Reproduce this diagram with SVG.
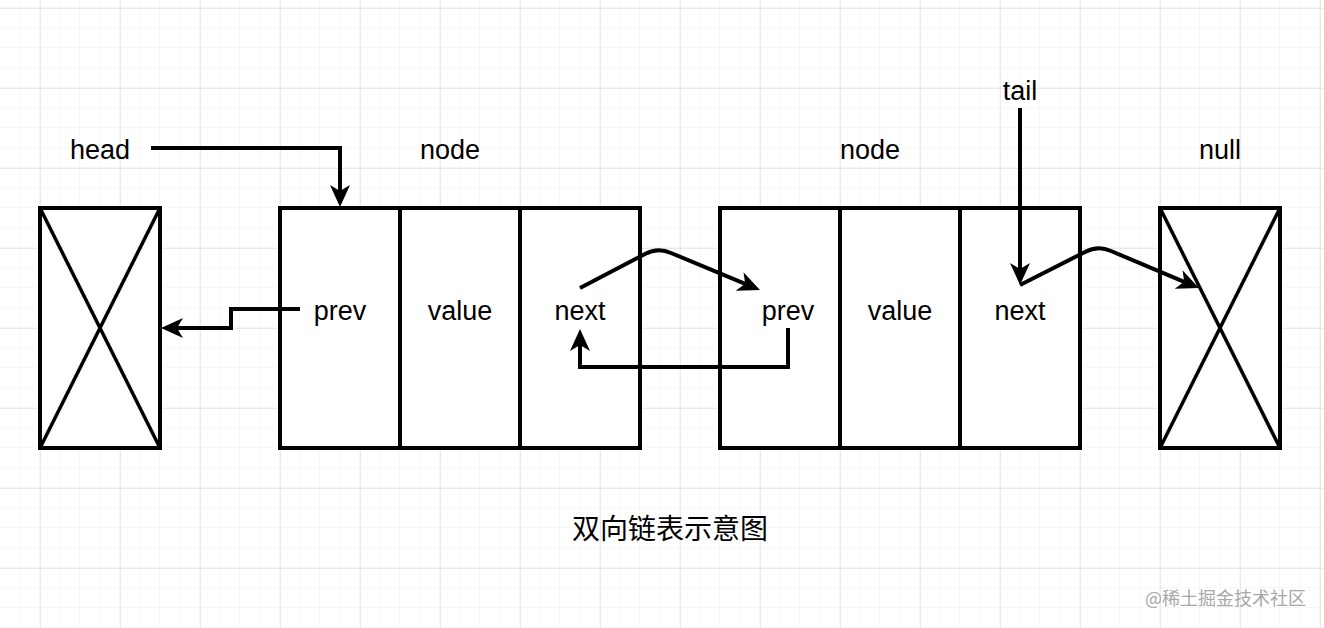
<svg xmlns="http://www.w3.org/2000/svg" width="1324" height="628" viewBox="0 0 1324 628">
  <defs>
    <pattern id="minor" width="20" height="20" patternUnits="userSpaceOnUse" x="0" y="8">
      <path d="M20 0 V20 M0 20 H20" fill="none" stroke="#efefef" stroke-width="1"/>
    </pattern>
    <pattern id="major" width="80" height="80" patternUnits="userSpaceOnUse" x="40" y="8">
      <path d="M0 0 V80 M0 0 H80" fill="none" stroke="#d6d6d6" stroke-width="1"/>
    </pattern>
    <marker id="arr" viewBox="0 0 22 20" refX="6" refY="10" markerWidth="22" markerHeight="20" markerUnits="userSpaceOnUse" orient="auto">
      <path d="M0,0 L22,10 L0,20 L6,10 z" fill="#000"/>
    </marker>
  </defs>
  <style>
    .box{fill:#fff;stroke:#000;stroke-width:4}
    .ln{fill:none;stroke:#000;stroke-width:3.5}
    .conn{fill:none;stroke:#000;stroke-width:4;stroke-linejoin:miter}
    .t{font-family:"Liberation Sans",Arial,sans-serif;font-size:27px;fill:#000;text-anchor:middle}
    .cjk{font-family:"Liberation Sans","Noto Sans CJK SC",sans-serif;font-size:28px;fill:#000;text-anchor:middle}
    .wm{font-family:"Noto Sans CJK SC",sans-serif;font-size:18px;fill:#a8a8a8;text-anchor:start}
  </style>
  <rect width="1324" height="628" fill="#fff"/>
  <rect x="0" y="0" width="1324" height="628" fill="url(#minor)"/>
  <rect x="0" y="0" width="1324" height="628" fill="url(#major)"/>

  <g id="headNull">
    <rect class="box" x="40" y="208" width="120" height="240"/>
    <path class="ln" d="M40 208 L160 448 M160 208 L40 448"/>
  </g>

  <g id="node1">
    <rect class="box" x="280" y="208" width="360" height="240"/>
    <path class="box" d="M400 208 V448 M520 208 V448"/>
    <text class="t" x="340" y="320">prev</text>
    <text class="t" x="460" y="320">value</text>
    <text class="t" x="580" y="320">next</text>
  </g>

  <g id="node2">
    <rect class="box" x="720" y="208" width="360" height="240"/>
    <path class="box" d="M840 208 V448 M960 208 V448"/>
    <text class="t" x="788" y="320">prev</text>
    <text class="t" x="900" y="320">value</text>
    <text class="t" x="1020" y="320">next</text>
  </g>

  <g id="nullBox">
    <rect class="box" x="1160" y="208" width="120" height="240"/>
    <path class="ln" d="M1160 208 L1280 448 M1280 208 L1160 448"/>
  </g>

  <g id="labels">
    <text class="t" x="100" y="159">head</text>
    <text class="t" x="450" y="159">node</text>
    <text class="t" x="870" y="159">node</text>
    <text class="t" x="1020" y="100">tail</text>
    <text class="t" x="1220" y="159">null</text>
    <text class="cjk" x="670" y="539">双向链表示意图</text>
    <text class="wm" x="1145" y="605">@稀土掘金技术社区</text>
  </g>

  <g id="connectors">
    <path class="conn" d="M151 148 H340 V191" marker-end="url(#arr)"/>
    <path class="conn" d="M300 309 H231 V328 H177" marker-end="url(#arr)"/>
    <path class="conn" d="M580 288 L645 254 Q658 247 671 253 L745.2 283.8" marker-end="url(#arr)"/>
    <path class="conn" d="M788 328 V367 H580 V345" marker-end="url(#arr)"/>
    <path class="conn" d="M1020 108 V269" marker-end="url(#arr)"/>
    <path class="conn" d="M1020 285 L1085 252 Q1098 245 1111 251 L1184.2 281.8" marker-end="url(#arr)"/>
  </g>
</svg>
